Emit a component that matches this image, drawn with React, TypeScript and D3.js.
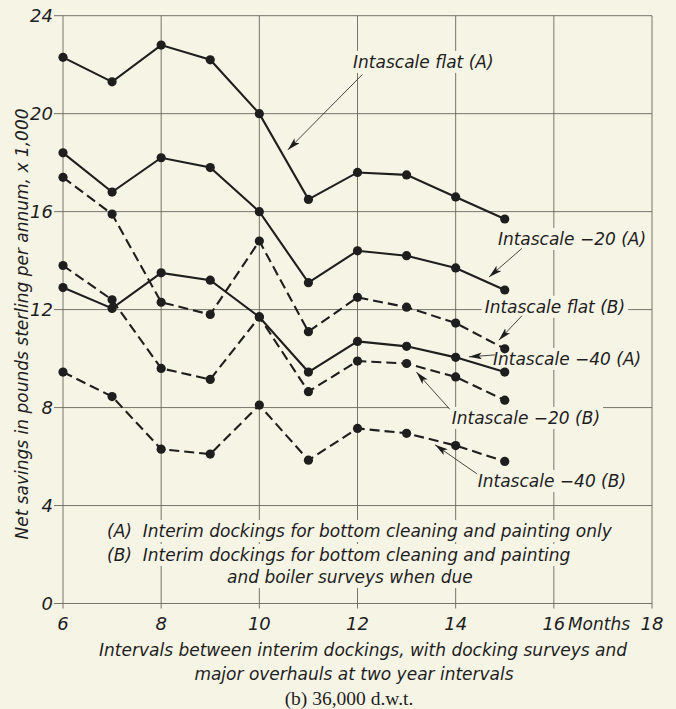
import React, { useEffect, useRef } from 'react';
import * as d3 from 'd3';

// interval between interim dockings (months)
const months = [6, 7, 8, 9, 10, 11, 12, 13, 14, 15];

// net savings, pounds sterling per annum x 1,000
const flatA = [22.3, 21.3, 22.8, 22.2, 20.0, 16.5, 17.6, 17.5, 16.6, 15.7];
const minus20A = [18.4, 16.8, 18.2, 17.8, 16.0, 13.1, 14.4, 14.2, 13.7, 12.8];
const flatB = [17.4, 15.9, 12.3, 11.8, 14.8, 11.1, 12.5, 12.1, 11.45, 10.4];
const minus40A = [12.9, 12.05, 13.5, 13.2, 11.7, 9.45, 10.7, 10.5, 10.05, 9.45];
const minus20B = [13.8, 12.4, 9.6, 9.15, 11.7, 8.65, 9.9, 9.8, 9.25, 8.3];
const minus40B = [9.45, 8.45, 6.3, 6.1, 8.1, 5.85, 7.15, 6.95, 6.45, 5.8];

const xTicks = [6, 8, 10, 12, 14, 16, 18];
const xTickLabels = ['6', '8', '10', '12', '14', '16', '18'];
const yTicks = [0, 4, 8, 12, 16, 20, 24];

const seriesNames = ['Intascale flat (A)', 'Intascale −20 (A)', 'Intascale flat (B)',
  'Intascale −40 (A)', 'Intascale −20 (B)', 'Intascale −40 (B)'];
const seriesValues = [flatA, minus20A, flatB, minus40A, minus20B, minus40B];
const seriesDashed = [false, false, true, false, true, true];

// label anchor and arrow (tail -> tip), in data units
const labelAt = [[11.91, 21.87], [14.86, 14.64], [14.59, 11.87], [14.76, 9.74], [13.92, 7.33], [14.45, 4.76]];
const arrowFrom = [[12.1, 21.6], [15.35, 14.5], [15.35, 11.75], [14.8, 10.15], [13.88, 7.93], [14.43, 5.3]];
const arrowTo = [[10.58, 18.52], [14.68, 13.33], [14.88, 10.75], [14.27, 10.07], [13.2, 9.45], [13.58, 6.48]];

const notes = [
  '(A)  Interim dockings for bottom cleaning and painting only',
  '(B)  Interim dockings for bottom cleaning and painting',
  'and boiler surveys when due'
];

const paper = '#f6f4e5';
const ink = '#1e1e1e';
const font = '"DejaVu Sans", sans-serif';

function App() {
  const ref = useRef<SVGSVGElement>(null);

  useEffect(() => {
    const svg = d3.select(ref.current);
    svg.selectAll('*').remove();

    const x = d3.scaleLinear().domain([6, 18]).range([63, 652]);
    const y = d3.scaleLinear().domain([0, 24]).range([603.5, 15.7]);

    svg.append('rect').attr('width', 676).attr('height', 709).attr('fill', paper);

    const defs = svg.append('defs');
    defs.append('marker')
      .attr('id', 'arrow')
      .attr('markerUnits', 'userSpaceOnUse')
      .attr('markerWidth', 14).attr('markerHeight', 8)
      .attr('refX', 13).attr('refY', 3.5)
      .attr('orient', 'auto')
      .append('path')
      .attr('d', 'M0,0 L13,3.5 L0,7 L3,3.5 Z')
      .attr('fill', ink);

    const gGrid = svg.append('g');
    const gMask = svg.append('g');
    const gData = svg.append('g');
    const gText = svg.append('g');
    const gArrow = svg.append('g');

    // grid
    gGrid.selectAll('line.v').data(xTicks).join('line')
      .attr('x1', d => x(d)).attr('x2', d => x(d))
      .attr('y1', y(24)).attr('y2', y(0) + 5)
      .attr('stroke', '#66665e').attr('stroke-width', 0.9);
    gGrid.selectAll('line.h').data(yTicks).join('line')
      .attr('x1', x(6) - 9).attr('x2', x(18))
      .attr('y1', d => y(d)).attr('y2', d => y(d))
      .attr('stroke', '#66665e').attr('stroke-width', 0.9);

    const italic = (sel: any, size: number) =>
      sel.attr('font-family', font).attr('font-style', 'italic').attr('font-size', size).attr('fill', ink);

    // tick labels
    yTicks.forEach(t => {
      italic(gText.append('text'), 18)
        .attr('x', x(6) - 10).attr('y', y(t) + 6)
        .attr('text-anchor', 'end').text(String(t));
    });
    xTicks.forEach((t, i) => {
      italic(gText.append('text'), 18)
        .attr('x', x(t)).attr('y', 630)
        .attr('text-anchor', 'middle').text(xTickLabels[i]);
    });
    italic(gText.append('text'), 17)
      .attr('x', 599).attr('y', 630)
      .attr('text-anchor', 'middle').text('Months');

    // axis titles
    italic(gText.append('text'), 17)
      .attr('x', 363).attr('y', 656).attr('text-anchor', 'middle')
      .text('Intervals between interim dockings, with docking surveys and');
    italic(gText.append('text'), 17)
      .attr('x', 354).attr('y', 680).attr('text-anchor', 'middle')
      .text('major overhauls at two year intervals');
    italic(gText.append('text'), 17)
      .attr('transform', 'translate(28,324) rotate(-90)').attr('text-anchor', 'middle')
      .text('Net savings in pounds sterling per annum, x 1,000');
    gText.append('text')
      .attr('x', 349).attr('y', 705).attr('text-anchor', 'middle')
      .attr('font-family', '"Liberation Serif", serif').attr('font-size', 19.5).attr('fill', ink)
      .text('(b) 36,000 d.w.t.');

    const masked = (node: SVGTextElement, pad: number) => {
      const b = node.getBBox();
      gMask.append('rect')
        .attr('x', b.x - pad).attr('y', b.y - 1)
        .attr('width', b.width + pad * 2).attr('height', b.height + 2)
        .attr('fill', paper);
    };

    // notes
    const noteX = [107, 107, 227];
    const noteY = [537, 561, 583];
    notes.forEach((n, i) => {
      const t = italic(gText.append('text'), 17)
        .attr('x', noteX[i]).attr('y', noteY[i]).attr('xml:space', 'preserve').text(n);
      masked(t.node(), 3);
    });

    // series
    const line = d3.line<number>().x((d, i) => x(months[i])).y(d => y(d));
    seriesValues.forEach((vals, s) => {
      gData.append('path')
        .attr('d', line(vals))
        .attr('fill', 'none').attr('stroke', ink).attr('stroke-width', 2.1)
        .attr('stroke-dasharray', seriesDashed[s] ? '10,5' : null);
      gData.selectAll(null).data(vals).join('circle')
        .attr('cx', (d, i) => x(months[i])).attr('cy', d => y(d))
        .attr('r', 4.6).attr('fill', ink);
    });

    // labels and arrows
    seriesNames.forEach((name, s) => {
      const t = italic(gText.append('text'), 17)
        .attr('x', x(labelAt[s][0])).attr('y', y(labelAt[s][1])).text(name);
      masked(t.node(), 3);
      gArrow.append('line')
        .attr('x1', x(arrowFrom[s][0])).attr('y1', y(arrowFrom[s][1]))
        .attr('x2', x(arrowTo[s][0])).attr('y2', y(arrowTo[s][1]))
        .attr('stroke', '#333').attr('stroke-width', 0.9)
        .attr('marker-end', 'url(#arrow)');
    });
  }, []);

  return (
    <svg ref={ref} width={676} height={709}
      style={{ position: 'absolute', left: 0, top: 0, display: 'block' }} />
  );
}

export default App;
